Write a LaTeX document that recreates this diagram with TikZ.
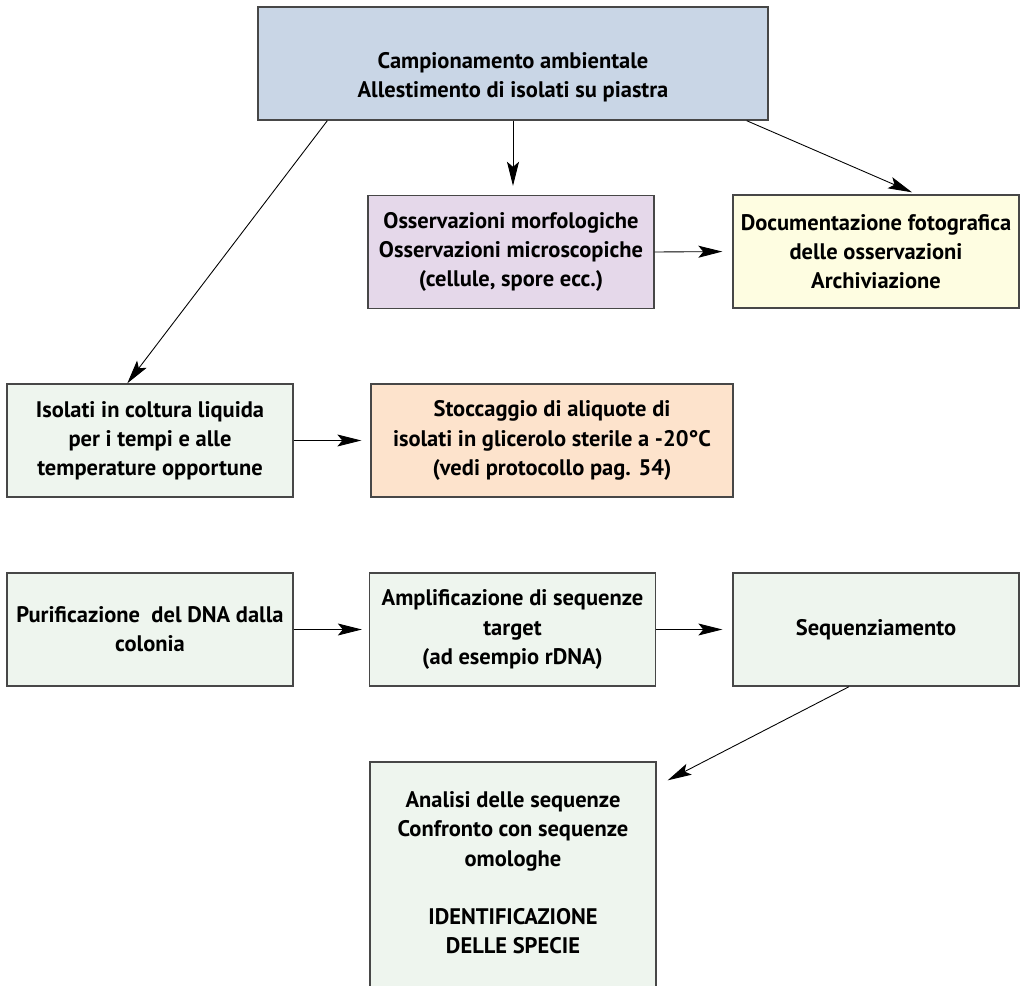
\documentclass[tikz,border=0pt]{standalone}
\usepackage{fontspec}
\setmainfont{PT Sans}
\usepackage{tikz}
\usepackage{xcolor}
\usetikzlibrary{arrows.meta,positioning,calc}

\definecolor{campblue}{HTML}{C9D6E6}
\definecolor{morfviolet}{HTML}{E5D8EA}
\definecolor{fotoyellow}{HTML}{FEFDE1}
\definecolor{isolgreen}{HTML}{EEF5EE}
\definecolor{stoccorange}{HTML}{FDE3CC}

\begin{document}
\begin{tikzpicture}[x=0.02cm, y=-0.02cm,
    box/.style={draw=black!72, line width=0.8pt, minimum width=5.72cm, minimum height=2.26cm,
        inner sep=2pt, align=center, font=\fontsize{12.8}{16.6}\selectfont\bfseries},
    boxtext/.style={inner sep=0pt, align=center, font=\fontsize{12.8}{16.6}\selectfont\bfseries},
    arr/.style={-{Stealth[length=0.48cm, width=0.24cm, inset=0.1cm]}, line width=0.5pt}]
    \useasboundingbox (0,0) rectangle (1020,986);
    \clip (0,0) rectangle (1020,986);

    % Sampling (top)
    \node[box, fill=campblue, minimum width=10.2cm] (camp) at (513,63.5) {};
    \node[boxtext] (camptxt) at ([yshift=-0.27cm]camp.center)
        {Campionamento ambientale\\Allestimento di isolati su piastra};

    % Observations
    \node[box, fill=morfviolet] (morf) at (511,252)
        {Osservazioni morfologiche\\Osservazioni microscopiche\\(cellule, spore ecc.)};
    \node[box, fill=fotoyellow] (foto) at (876,251.5)
        {Documentazione fotografica\\delle osservazioni\\Archiviazione};

    % Liquid culture and storage
    \node[box, fill=isolgreen] (coltura) at (150,440.5)
        {Isolati in coltura liquida\\per i tempi e alle\\temperature opportune};
    \node[box, fill=stoccorange, minimum width=7.24cm] (stocc) at (552,440.5)
        {Stoccaggio di aliquote di\\isolati in glicerolo sterile a -20°C\\(vedi protocollo pag. 54)};

    % DNA row
    \node[box, fill=isolgreen] (purif) at (150,629.5) {Purificazione\ \ del DNA dalla\\colonia};
    \node[box, fill=isolgreen] (ampl) at (512.5,629.5)
        {Amplificazione di sequenze\\target\\(ad esempio rDNA)};
    \node[box, fill=isolgreen] (seq) at (876,629.5) {Sequenziamento};

    % Analysis (runs off the bottom)
    \node[box, fill=isolgreen, minimum height=5.2cm] (anal) at (513,892) {};
    \node[boxtext, anchor=north] (analtxt) at ([yshift=-0.6cm]anal.north)
        {Analisi delle sequenze\\Confronto con sequenze\\omologhe\\[16.6pt]IDENTIFICAZIONE\\DELLE SPECIE};

    % Connections
    \draw[arr] ([xshift=1.4cm]camp.south west) -- ([xshift=2.42cm]coltura.north west);
    \draw[arr, shorten >=0.18cm] (camp.south) -- (camp.south |- morf.north);
    \draw[arr] ([xshift=-0.44cm]camp.south east) -- ([xshift=0.72cm,yshift=0.04cm]foto.north);
    \draw[arr, shorten >=0.2cm] (morf.east) -- (foto.west);
    \draw[arr, shorten >=0.18cm] (coltura.east) -- (stocc.west);
    \draw[arr, shorten >=0.14cm] (purif.east) -- (ampl.west);
    \draw[arr, shorten >=0.2cm] (ampl.east) -- (seq.west);
    \draw[arr] ([xshift=-0.54cm]seq.south) -- ([xshift=0.22cm,yshift=-0.38cm]anal.north east);
\end{tikzpicture}
\end{document}
